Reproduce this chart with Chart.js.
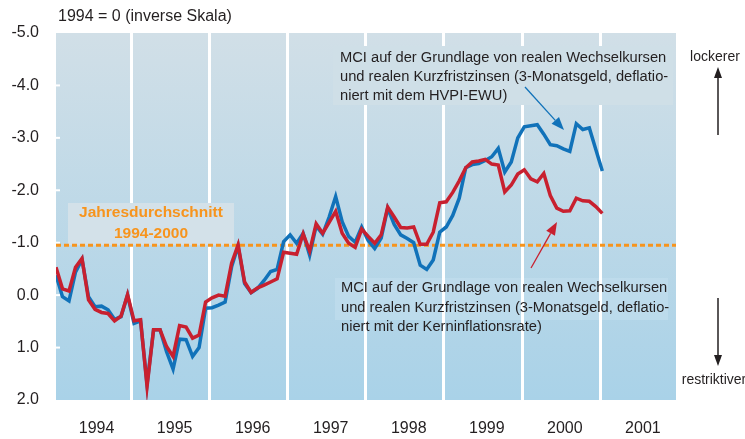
<!DOCTYPE html>
<html>
<head>
<meta charset="utf-8">
<script src="https://cdn.jsdelivr.net/npm/chart.js@4/dist/chart.umd.min.js"></script>
<style>
  html, body { margin: 0; padding: 0; background: #fff; }
</style>
</head>
<body>
<canvas id="mci-chart" width="745" height="439"></canvas>
<script>
const startYear = 1994;
const yearLabels = [1994, 1995, 1996, 1997, 1998, 1999, 2000, 2001];

// MCI, monthly Jan 1994 - Jan 2001 (1994 = 0, inverse scale)
const mciHvpi = [
    -0.38, 0.03, 0.11, -0.44, -0.68, 0.03, 0.22, 0.21, 0.28, 0.46, 0.41, 0.00,
    0.54, 0.49, 1.70, 0.66, 0.66, 1.08, 1.41, 0.84, 0.85, 1.17, 1.00, 0.25,
    0.24, 0.19, 0.13, -0.54, -0.94, -0.22, -0.05, -0.13, -0.28, -0.45, -0.49, -1.02,
    -1.15, -0.99, -1.18, -0.76, -1.32, -1.16, -1.49, -1.88, -1.40, -1.12, -1.01, -1.30,
    -1.04, -0.89, -1.09, -1.66, -1.35, -1.15, -1.08, -1.00, -0.57, -0.49, -0.67, -1.20,
    -1.30, -1.52, -1.85, -2.43, -2.49, -2.51, -2.57, -2.64, -2.80, -2.35, -2.54, -3.00,
    -3.21, -3.23, -3.25, -3.07, -2.87, -2.85, -2.79, -2.74, -3.27, -3.16, -3.19, -2.78,
    -2.37,
];
const mciKern = [
    -0.53, -0.12, -0.08, -0.53, -0.70, 0.09, 0.27, 0.33, 0.35, 0.49, 0.40, -0.01,
    0.49, 0.47, 1.74, 0.66, 0.66, 0.98, 1.17, 0.58, 0.61, 0.82, 0.76, 0.13,
    0.05, 0.00, 0.02, -0.61, -0.96, -0.25, -0.05, -0.14, -0.19, -0.25, -0.31, -0.82,
    -0.80, -0.78, -1.17, -0.84, -1.36, -1.18, -1.39, -1.60, -1.18, -0.99, -0.91, -1.26,
    -1.12, -0.99, -1.15, -1.68, -1.49, -1.29, -1.28, -1.30, -0.97, -0.97, -1.20, -1.76,
    -1.78, -1.96, -2.18, -2.43, -2.54, -2.56, -2.59, -2.50, -2.48, -1.97, -2.10, -2.31,
    -2.39, -2.22, -2.16, -2.32, -1.90, -1.66, -1.60, -1.61, -1.85, -1.80, -1.79, -1.69,
    -1.56,
];
const average = -0.95;

const months = mciHvpi.map((_, i) => startYear + i / 12);
const xMin = 1994;
const xMax = 2001.944;

const textColor = "#231f20";
const font = "Liberation Sans, Arial, Helvetica, sans-serif";

function arrow(ctx, x1, y1, x2, y2, color, lw, headLen, headW) {
    const a = Math.atan2(y2 - y1, x2 - x1);
    const bx = x2 - headLen * Math.cos(a);
    const by = y2 - headLen * Math.sin(a);
    ctx.save();
    ctx.strokeStyle = color;
    ctx.fillStyle = color;
    ctx.lineWidth = lw;
    ctx.beginPath();
    ctx.moveTo(x1, y1);
    ctx.lineTo(bx, by);
    ctx.stroke();
    ctx.beginPath();
    ctx.moveTo(x2, y2);
    ctx.lineTo(bx + headW / 2 * Math.sin(a), by - headW / 2 * Math.cos(a));
    ctx.lineTo(bx - headW / 2 * Math.sin(a), by + headW / 2 * Math.cos(a));
    ctx.closePath();
    ctx.fill();
    ctx.restore();
}

// background, year separators, boxes
const backdrop = {
    id: "backdrop",
    beforeDatasetsDraw(chart) {
        const { ctx, chartArea: a, scales: { x, y } } = chart;
        ctx.save();
        const g = ctx.createLinearGradient(0, a.top, 0, a.bottom);
        g.addColorStop(0, "#d1dfe7");
        g.addColorStop(1, "#a9d2e8");
        ctx.fillStyle = g;
        ctx.fillRect(a.left, a.top, a.right - a.left, a.bottom - a.top);

        ctx.fillStyle = "rgba(196,224,238,0.55)";
        ctx.fillRect(335, 278, 333, 42);

        // white year separators
        ctx.strokeStyle = "#ffffff";
        ctx.lineWidth = 3;
        yearLabels.slice(0, -1).forEach((yr) => {
            const px = Math.round(x.getPixelForValue(yr + 0.965)) + 0.5;
            ctx.beginPath();
            ctx.moveTo(px, a.top);
            ctx.lineTo(px, a.bottom);
            ctx.stroke();
        });
        // small white ticks on the left edge
        ctx.lineWidth = 2;
        y.ticks.forEach((t) => {
            if (t.value <= -5 || t.value >= 2) return;
            const py = y.getPixelForValue(t.value);
            ctx.beginPath();
            ctx.moveTo(a.left, py);
            ctx.lineTo(a.left + 4, py);
            ctx.stroke();
        });

        // upper text box hides the separators
        ctx.fillStyle = "#cfdfe7";
        ctx.fillRect(333, 46, 340, 59);
        ctx.fillStyle = "#d3e1e9";
        ctx.fillRect(68, 203, 166, y.getPixelForValue(average) - 203);
        ctx.restore();
    },
    afterDraw(chart) {
        const { ctx } = chart;
        ctx.save();
        ctx.fillStyle = textColor;
        ctx.textBaseline = "middle";
        ctx.textAlign = "left";
        ctx.font = "16px " + font;
        ctx.fillText("1994 = 0 (inverse Skala)", 58, 17);

        ctx.font = "14.7px " + font;
        const upper = [
            "MCI auf der Grundlage von realen Wechselkursen",
            "und realen Kurzfristzinsen (3-Monatsgeld, deflatio-",
            "niert mit dem HVPI-EWU)",
        ];
        upper.forEach((t, i) => ctx.fillText(t, 340, 58 + i * 19));
        const lower = [
            "MCI auf der Grundlage von realen Wechselkursen",
            "und realen Kurzfristzinsen (3-Monatsgeld, deflatio-",
            "niert mit der Kerninflationsrate)",
        ];
        lower.forEach((t, i) => ctx.fillText(t, 341, 288 + i * 19.5));

        ctx.fillStyle = "#f7941d";
        ctx.textAlign = "center";
        ctx.font = "bold 15.5px " + font;
        ctx.fillText("Jahresdurchschnitt", 151, 213);
        ctx.fillText("1994-2000", 151, 234);

        ctx.fillStyle = textColor;
        ctx.font = "14px " + font;
        ctx.fillText("lockerer", 715, 57);
        ctx.fillText("restriktiver", 714, 380);
        ctx.restore();

        arrow(ctx, 718, 135, 718, 67, textColor, 1.5, 11, 8);
        arrow(ctx, 718, 298, 718, 366, textColor, 1.5, 11, 8);
        arrow(ctx, 525, 87, 564, 130, "#1172b9", 1.3, 13, 10);
        arrow(ctx, 531, 268, 557, 222, "#c8202f", 1.3, 13, 10);
    },
};

const ctx = document.getElementById("mci-chart");

new Chart(ctx, {
    type: "line",
    data: {
        datasets: [
            {
                label: "MCI (Kerninflationsrate)",
                data: months.map((m, i) => ({ x: m, y: mciKern[i] })),
                borderColor: "#c8202f",
                borderWidth: 3.5,
                pointRadius: 0,
                order: 0,
            },
            {
                label: "MCI (HVPI-EWU)",
                data: months.map((m, i) => ({ x: m, y: mciHvpi[i] })),
                borderColor: "#1172b9",
                borderWidth: 3.5,
                pointRadius: 0,
                order: 1,
            },
            {
                label: "Jahresdurchschnitt 1994-2000",
                data: [{ x: xMin, y: average }, { x: xMax, y: average }],
                borderColor: "#f7941d",
                borderWidth: 3,
                borderDash: [5, 3],
                pointRadius: 0,
                order: 2,
            },
        ],
    },
    options: {
        responsive: false,
        animation: false,
        layout: { padding: { top: 33, right: 69, left: 0, bottom: 0 } },
        plugins: {
            legend: { display: false },
            tooltip: { enabled: false },
        },
        scales: {
            x: {
                type: "linear",
                min: xMin,
                max: xMax,
                grid: { display: false },
                border: { display: false },
                afterBuildTicks: (s) => {
                    s.ticks = yearLabels.map((yr) => ({ value: yr + 0.52 }));
                },
                afterFit: (s) => {
                    s.height = 39;
                },
                ticks: {
                    autoSkip: false,
                    maxRotation: 0,
                    padding: 11,
                    color: textColor,
                    font: { family: font, size: 16 },
                    callback: (v) => String(Math.floor(v)),
                },
            },
            y: {
                reverse: true,
                min: -5,
                max: 2,
                grid: { display: false },
                border: { display: false },
                afterFit: (s) => {
                    s.width = 56;
                },
                ticks: {
                    stepSize: 1,
                    padding: 9,
                    color: textColor,
                    font: { family: font, size: 16 },
                    callback: (v) => Number(v).toFixed(1),
                },
            },
        },
    },
    plugins: [backdrop],
});
</script>
</body>
</html>
